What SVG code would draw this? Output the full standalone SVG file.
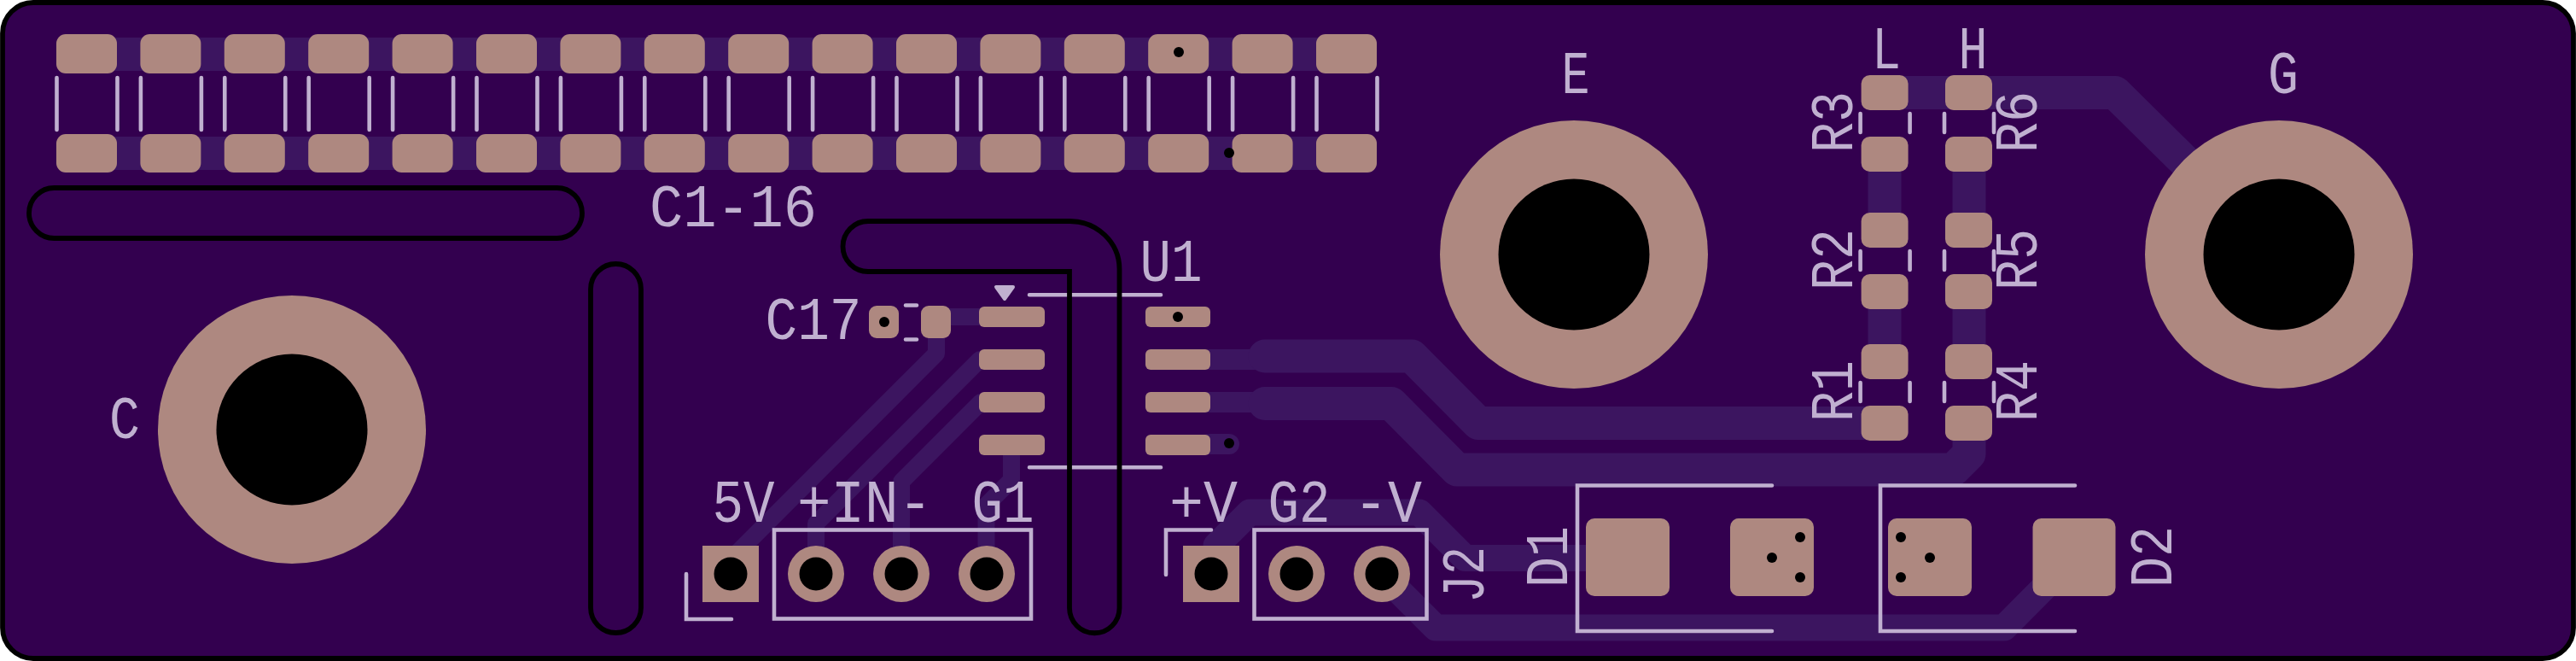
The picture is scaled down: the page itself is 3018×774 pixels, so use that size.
<svg xmlns="http://www.w3.org/2000/svg" width="3018" height="774" viewBox="0 0 3018 774">
<style>
.trk{fill:none;stroke:#3c1560;stroke-linejoin:round;stroke-linecap:round}
.w39{stroke-width:39}.w31{stroke-width:31}.w24{stroke-width:24}.w20{stroke-width:20}
.pad{fill:#ae8880}
.drill{fill:#000}
.silk{fill:none;stroke:#c0b0d0;stroke-width:4.6;stroke-linecap:round;stroke-linejoin:miter}
.edge{fill:none;stroke:#000;stroke-width:5.8}
text{font-family:"Liberation Mono","DejaVu Sans Mono",monospace;font-size:70px;fill:#c0b0d0;text-anchor:middle}
</style>
<defs>
<g id="cap">
<rect class="pad" x="0" y="40" width="71" height="46" rx="11"/>
<rect class="pad" x="0" y="157" width="71" height="45" rx="11"/>
<path class="silk" d="M0.5 91V152M71.5 91V152"/>
</g>
<g id="res">
<rect class="pad" x="0" y="0" width="55" height="41" rx="10"/>
<rect class="pad" x="0" y="72" width="55" height="41" rx="10"/>
<path class="silk" d="M-1 45V67M57 45V67"/>
</g>
</defs>
<rect x="0" y="0" width="3018" height="774" fill="#fff"/>
<rect id="board" x="3" y="3" width="3012" height="768" rx="36" fill="#33004f" stroke="#000" stroke-width="5.8"/>

<g id="connectors">
<path class="trk w39" d="M100 63.500H1578M100 179.500H1578"/>
<path class="trk w39" d="M2208 108.500H2478L2670 298"/>
<path class="trk w39" d="M2208 180V269M2208 341V424M2307 180V269M2307 341V424"/>
<path class="trk w24" d="M1417 421H1490M1417 471H1490M1417 520H1440"/>
<path class="trk w39" d="M1482 417H1654L1732 495.500H2208"/>
<path class="trk w39" d="M1482 472.500H1630L1707 550H2288.500L2307 531.500V495"/>
<path class="trk w31" d="M1425 660V639L1464 600H1663L1716.500 653.500H1907"/>
<path class="trk w31" d="M1619 672L1682 735H2348L2430 652.500"/>
<path class="trk w20" d="M1185 371H1097V414L856 655V672"/>
<path class="trk w20" d="M1185 421H1148L956 613V672"/>
<path class="trk w20" d="M1185 471H1149L1056 564V672"/>
<path class="trk w20" d="M1185 521V562L1155.500 591.500V672"/>
</g>

<g id="C1-16">
<use href="#cap" x="66"/><use href="#cap" x="164.400"/><use href="#cap" x="262.800"/><use href="#cap" x="361.200"/>
<use href="#cap" x="459.600"/><use href="#cap" x="558"/><use href="#cap" x="656.400"/><use href="#cap" x="754.800"/>
<use href="#cap" x="853.200"/><use href="#cap" x="951.600"/><use href="#cap" x="1050"/><use href="#cap" x="1148.400"/>
<use href="#cap" x="1246.800"/><use href="#cap" x="1345.200"/><use href="#cap" x="1443.600"/><use href="#cap" x="1542"/>
<circle class="drill" cx="1381" cy="61" r="6"/>
<circle class="drill" cx="1440" cy="179" r="6"/>
<text x="859" y="265" textLength="196" lengthAdjust="spacingAndGlyphs">C1-16</text>
</g>

<g id="C">
<circle class="pad" cx="342" cy="503" r="157"/>
<circle class="drill" cx="342" cy="503" r="88.500"/>
<text x="146" y="513" textLength="36" lengthAdjust="spacingAndGlyphs">C</text>
</g>
<g id="E">
<circle class="pad" cx="1844" cy="298" r="157"/>
<circle class="drill" cx="1844" cy="298" r="88.500"/>
<text x="1846" y="109" textLength="33" lengthAdjust="spacingAndGlyphs">E</text>
</g>
<g id="G">
<circle class="pad" cx="2670" cy="298" r="157"/>
<circle class="drill" cx="2670" cy="298" r="88.500"/>
<text x="2675" y="109" textLength="36" lengthAdjust="spacingAndGlyphs">G</text>
</g>

<g id="R3"><use href="#res" x="2180.600" y="88"/><text transform="translate(2170,143) rotate(-90)" textLength="72" lengthAdjust="spacingAndGlyphs">R3</text></g>
<g id="R2"><use href="#res" x="2180.600" y="249"/><text transform="translate(2170,304) rotate(-90)" textLength="72" lengthAdjust="spacingAndGlyphs">R2</text></g>
<g id="R1"><use href="#res" x="2180.600" y="403"/><text transform="translate(2170,458) rotate(-90)" textLength="72" lengthAdjust="spacingAndGlyphs">R1</text></g>
<g id="R6"><use href="#res" x="2279" y="88"/><text transform="translate(2386,143) rotate(-90)" textLength="72" lengthAdjust="spacingAndGlyphs">R6</text></g>
<g id="R5"><use href="#res" x="2279" y="249"/><text transform="translate(2386,304) rotate(-90)" textLength="72" lengthAdjust="spacingAndGlyphs">R5</text></g>
<g id="R4"><use href="#res" x="2279" y="403"/><text transform="translate(2386,458) rotate(-90)" textLength="72" lengthAdjust="spacingAndGlyphs">R4</text></g>
<g id="L"><text x="2210" y="80" textLength="34" lengthAdjust="spacingAndGlyphs">L</text></g>
<g id="H"><text x="2311.500" y="80" textLength="34" lengthAdjust="spacingAndGlyphs">H</text></g>

<g id="C17">
<rect class="pad" x="1018" y="358" width="35" height="38" rx="9"/>
<rect class="pad" x="1079" y="358" width="35" height="38" rx="9"/>
<circle class="drill" cx="1036" cy="377" r="6"/>
<path class="silk" d="M1061 357.500H1074M1061 397.500H1074"/>
<text x="953" y="397" textLength="113" lengthAdjust="spacingAndGlyphs">C17</text>
</g>

<g id="U1">
<rect class="pad" x="1147" y="359" width="77" height="24" rx="6"/>
<rect class="pad" x="1147" y="409" width="77" height="24" rx="6"/>
<rect class="pad" x="1147" y="459" width="77" height="24" rx="6"/>
<rect class="pad" x="1147" y="509" width="77" height="24" rx="6"/>
<rect class="pad" x="1342" y="359" width="76" height="24" rx="6"/>
<rect class="pad" x="1342" y="409" width="76" height="24" rx="6"/>
<rect class="pad" x="1342" y="459" width="76" height="24" rx="6"/>
<rect class="pad" x="1342" y="509" width="76" height="24" rx="6"/>
<circle class="drill" cx="1380" cy="371" r="6"/>
<circle class="drill" cx="1440" cy="519" r="6"/>
<path class="silk" d="M1206 345.300H1360M1206 547.300H1360"/>
<path d="M1167 336H1187L1177 350Z" fill="#c0b0d0" stroke="#c0b0d0" stroke-width="4" stroke-linejoin="round"/>
<text x="1372" y="329" textLength="73" lengthAdjust="spacingAndGlyphs">U1</text>
</g>

<g id="J1">
<rect class="pad" x="823" y="639" width="66" height="66"/>
<circle class="drill" cx="856" cy="672" r="19.500"/>
<circle class="pad" cx="956" cy="672" r="33"/><circle class="drill" cx="956" cy="672" r="19.500"/>
<circle class="pad" cx="1056" cy="672" r="33"/><circle class="drill" cx="1056" cy="672" r="19.500"/>
<circle class="pad" cx="1156" cy="672" r="33"/><circle class="drill" cx="1156" cy="672" r="19.500"/>
<rect class="silk" x="907" y="620.500" width="301" height="104"/>
<path class="silk" d="M804 672V725H857"/>
<text x="871" y="611" textLength="73" lengthAdjust="spacingAndGlyphs">5V</text>
<text x="1013" y="611" textLength="158" lengthAdjust="spacingAndGlyphs">+IN-</text>
<text x="1175" y="611" textLength="73" lengthAdjust="spacingAndGlyphs">G1</text>
</g>

<g id="J2">
<rect class="pad" x="1386" y="639" width="66" height="66"/>
<circle class="drill" cx="1419" cy="672" r="19.500"/>
<circle class="pad" cx="1519" cy="672" r="33"/><circle class="drill" cx="1519" cy="672" r="19.500"/>
<circle class="pad" cx="1619" cy="672" r="33"/><circle class="drill" cx="1619" cy="672" r="19.500"/>
<rect class="silk" x="1469.500" y="620.500" width="202" height="104"/>
<path class="silk" d="M1419 620.500H1366V673"/>
<text x="1410" y="611" textLength="80" lengthAdjust="spacingAndGlyphs">+V</text>
<text x="1522" y="611" textLength="73" lengthAdjust="spacingAndGlyphs">G2</text>
<text x="1626" y="611" textLength="80" lengthAdjust="spacingAndGlyphs">-V</text>
<text transform="translate(1738,673) rotate(-90)" textLength="66" lengthAdjust="spacingAndGlyphs">J2</text>
</g>

<g id="D1">
<rect class="pad" x="1858" y="607" width="98" height="91" rx="10"/>
<rect class="pad" x="2027" y="607" width="98" height="91" rx="10"/>
<circle class="drill" cx="2109" cy="629" r="6"/><circle class="drill" cx="2076" cy="653" r="6"/><circle class="drill" cx="2109" cy="676" r="6"/>
<path class="silk" d="M2076 568.500H1848V739H2076"/>
<text transform="translate(1836,652) rotate(-90)" textLength="72" lengthAdjust="spacingAndGlyphs">D1</text>
</g>
<g id="D2">
<rect class="pad" x="2212" y="607" width="98" height="91" rx="10"/>
<rect class="pad" x="2381.500" y="607" width="97" height="91" rx="10"/>
<circle class="drill" cx="2227" cy="629" r="6"/><circle class="drill" cx="2261" cy="653" r="6"/><circle class="drill" cx="2227" cy="676" r="6"/>
<path class="silk" d="M2431 568.500H2203V739H2431"/>
<text transform="translate(2544,652) rotate(-90)" textLength="72" lengthAdjust="spacingAndGlyphs">D2</text>
</g>

<g id="slots">
<rect class="edge" x="34" y="220" width="648" height="59" rx="29.500"/>
<rect class="edge" x="692" y="309" width="59" height="432" rx="29.500"/>
<path class="edge" d="M1017 259H1253A58 56 0 0 1 1311.500 315V712A29.200 29.200 0 0 1 1253 712V318H1017A29.500 29.500 0 0 1 1017 259Z"/>
</g>
</svg>
